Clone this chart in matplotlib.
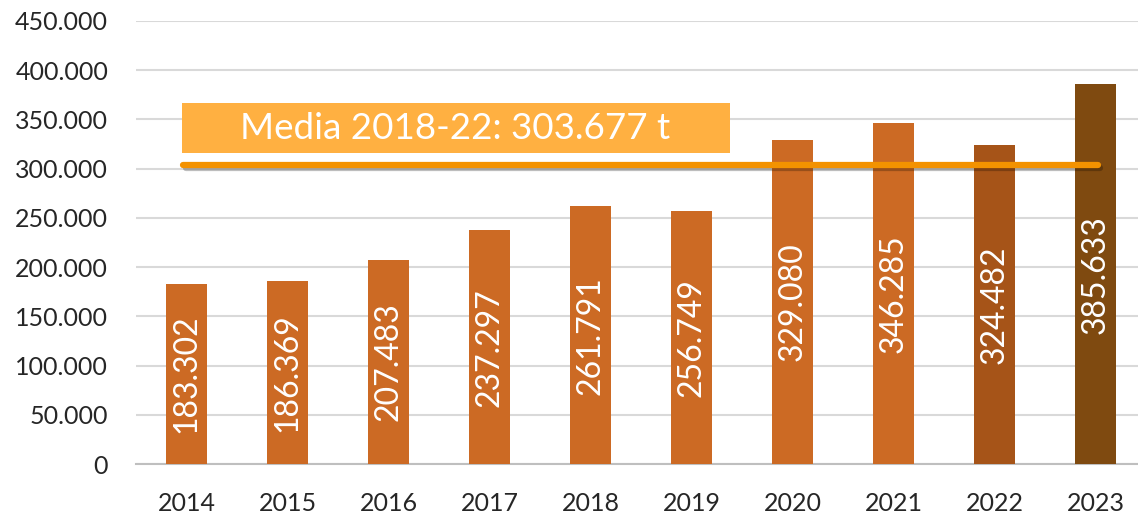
import numpy as np
import matplotlib
matplotlib.use("Agg")
import matplotlib.pyplot as plt
from matplotlib.patches import Rectangle
import matplotlib.patheffects as pe

years = ["2014", "2015", "2016", "2017", "2018", "2019", "2020", "2021", "2022", "2023"]
values = [183302, 186369, 207483, 237297, 261791, 256749, 329080, 346285, 324482, 385633]
media = 303677
media_label = "Media 2018-22: 303.677 t"
yticks = [0, 50000, 100000, 150000, 200000, 250000, 300000, 350000, 400000, 450000]

colors = ["#CC6A24"] * 8 + ["#A65418", "#7F4A10"]

plt.rcParams['font.family'] = ['Lato', 'DejaVu Sans']

def fmt(v):
    return "{:,}".format(v).replace(",", ".")

fig = plt.figure(figsize=(11.38, 5.17), dpi=100)
ax = fig.add_axes([136 / 1138, 53 / 517, 1 - 136 / 1138, 443 / 517])

x = np.arange(len(years))
ax.bar(x, values, width=0.4, color=colors, zorder=3)

for xi, v in zip(x, values):
    ax.text(xi, v / 2, fmt(v), rotation=90, ha="center", va="center",
            color="white", fontsize=23, zorder=4)

# average line
ax.plot([-0.03, 9.02], [media, media], color="#F39200", lw=4.5,
        solid_capstyle="round", zorder=5,
        path_effects=[pe.SimpleLineShadow(offset=(1.5, -2), alpha=0.25), pe.Normal()])

# label box
ax.add_patch(Rectangle((-0.04, 315900), 5.42, 50800, facecolor="#FFB041",
                       edgecolor="none", zorder=6))
ax.text(2.66, 341300, media_label, ha="center", va="center", color="white",
        fontsize=26.5, zorder=7)

ax.set_xlim(-0.5, 9.42)
ax.set_ylim(0, 450000)
ax.set_xticks(x)
ax.set_xticklabels(years)
ax.set_yticks(yticks)
ax.set_yticklabels([fmt(t) for t in yticks])
ax.tick_params(axis="both", length=0, labelsize=18, colors="#262626")
ax.tick_params(axis="x", pad=20)
ax.tick_params(axis="y", pad=20)
ax.grid(axis="y", color="#D9D9D9", lw=1.5, zorder=0)
for s in ["top", "right", "left"]:
    ax.spines[s].set_visible(False)
ax.spines["bottom"].set_color("#BFBFBF")
ax.spines["bottom"].set_linewidth(1.5)

fig.savefig("out.png", dpi=100)
